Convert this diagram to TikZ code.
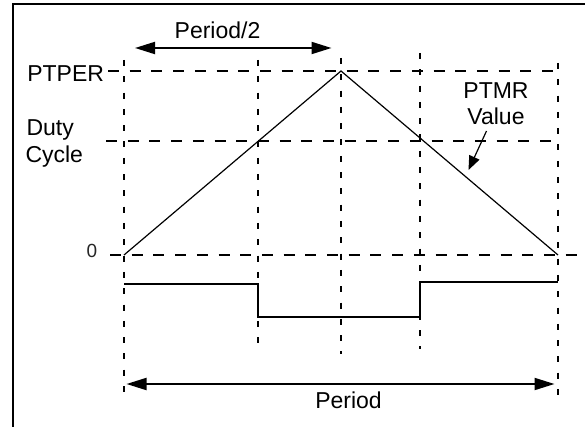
\documentclass[tikz,border=0pt]{standalone}
\usepackage{fontspec}
\setmainfont{Liberation Sans}
\usetikzlibrary{arrows.meta}
\begin{document}
\begin{tikzpicture}[x=1pt,y=-1pt,
  lbl/.style={font=\fontsize{23}{27}\selectfont, inner sep=0pt, outer sep=0pt},
  zerolbl/.style={font=\fontsize{19}{22}\selectfont, text=black!85, inner sep=0pt},
  hdash/.style={line width=2.5pt, dash pattern=on 11pt off 10.7pt},
  vdash/.style={line width=2pt, dash pattern=on 6pt off 10.3pt},
  wave/.style={line width=2pt},
  ramp/.style={line width=1.2pt},
  dimarrow/.style={line width=2pt, {Triangle[length=20pt,width=12pt]}-{Triangle[length=20pt,width=12pt]}},
  pointer/.style={line width=1.2pt, -{Triangle[length=14pt,width=11pt]}},
  frameline/.style={line width=2pt}]
\useasboundingbox (0,0) rectangle (585,427);

% frame (top and left only)
\coordinate (fbl) at (13,427);
\coordinate (ftl) at (13,4);
\coordinate (ftr) at (585,4);
\draw[frameline] (fbl) -- (ftl) -- (ftr);

% horizontal dashed reference lines
\coordinate (hp1) at (108,71);  \coordinate (hp2) at (560,71);
\coordinate (hd1) at (106,141); \coordinate (hd2) at (559,141);
\coordinate (hz1) at (110,255); \coordinate (hz2) at (585,255);
\draw[hdash] (hp1) -- (hp2);
\draw[hdash] (hd1) -- (hd2);
\draw[hdash] (hz1) -- (hz2);

% vertical dashed lines
\coordinate (v1a) at (124,60);   \coordinate (v1b) at (124,397);
\coordinate (v2a) at (257.5,60); \coordinate (v2b) at (257.5,349);
\coordinate (v3a) at (341,58);   \coordinate (v3b) at (341,354);
\coordinate (v4a) at (420,53);   \coordinate (v4b) at (420,349);
\coordinate (v5a) at (558,63);   \coordinate (v5b) at (558,405);
\draw[vdash] (v1a) -- (v1b);
\draw[vdash] (v2a) -- (v2b);
\draw[vdash] (v3a) -- (v3b);
\draw[vdash] (v4a) -- (v4b);
\draw[vdash] (v5a) -- (v5b);

% PTMR ramp (triangle)
\coordinate (r0) at (124,255);
\coordinate (rtop) at (341,71);
\coordinate (r1) at (558,255);
\draw[ramp] (r0) -- (rtop) -- (r1);

% PWM output
\coordinate (w0) at (124,283.5);
\coordinate (w1) at (257.5,283.5);
\coordinate (w2) at (257.5,317);
\coordinate (w3) at (420,317);
\coordinate (w4) at (420,282);
\coordinate (w5) at (558,282);
\draw[wave] (w0) -- (w1) -- (w2) -- (w3) -- (w4) -- (w5);

% Period/2 dimension
\coordinate (ph1) at (135,48);
\coordinate (ph2) at (331.5,48);
\draw[dimarrow] (ph1) -- (ph2);
\node[lbl, anchor=base] (lperiodhalf) at (217.5,39) {Period/2};

% Period dimension
\coordinate (pf1) at (126.5,384);
\coordinate (pf2) at (554.5,384);
\draw[dimarrow] (pf1) -- (pf2);
\node[lbl, anchor=base] (lperiod) at (348.5,408) {Period};

% left labels
\node[lbl, anchor=base east] (lptper) at (104,81.5) {PTPER};
\node[lbl, anchor=base west] (lduty) at (26.5,136) {Duty};
\node[lbl, anchor=base west] (lcycle) at (25.5,163) {Cycle};
\node[zerolbl, anchor=base] (lzero) at (92,258) {0};

% PTMR value label and pointer
\node[lbl, anchor=base] (lptmr) at (496,99) {PTMR};
\node[lbl, anchor=base] (lvalue) at (496,125) {Value};
\coordinate (ptail) at (486.5,131);
\coordinate (ptip) at (468.5,170);
\draw[pointer] (ptail) -- (ptip);
\end{tikzpicture}
\end{document}
